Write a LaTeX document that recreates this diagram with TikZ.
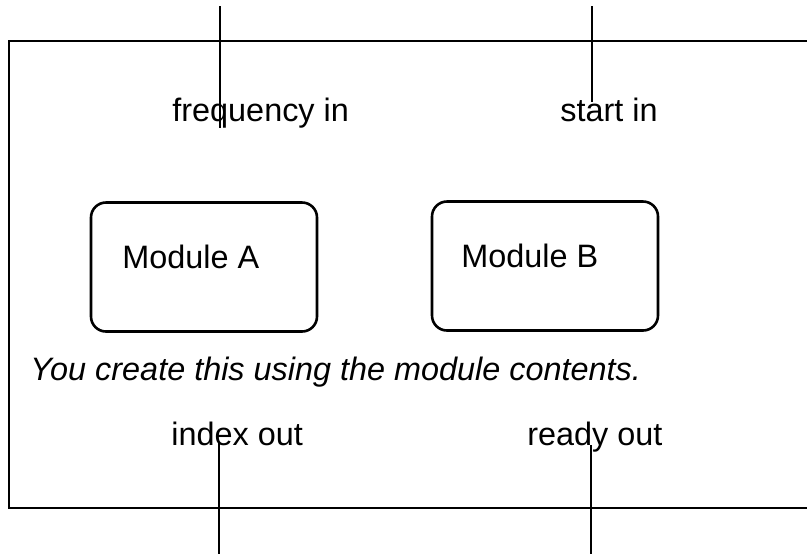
\documentclass[tikz,border=0pt]{standalone}
\usepackage{fontspec}
\setmainfont{Liberation Sans}
\usepackage{tikz}
\tikzset{
frame/.style={line width=1.4pt},
port/.style={line width=1.4pt},
module/.style={
  draw,
  line width=1.3pt,
  rounded corners=7.5pt,
  minimum width=113pt,
  minimum height=64.5pt,
  inner sep=0pt
},
txt/.style={anchor=base west,inner sep=0pt,font=\fontsize{16.2}{19}\selectfont},
}

\begin{document}
\begin{tikzpicture}[x=0.5pt,y=-0.5pt]
\useasboundingbox (0,0) rectangle (807,554);
% the outer frame, open to the right
\draw[frame] (812,41) -- (9,41) -- (9,508) -- (812,508);
% the modules
\node[module] (modA) at (204,267) {};
\node[module] (modB) at (545,266) {};
\node[txt] (labA) at (122,268) {Module A};
\node[txt] (labB) at (461,267) {Module B};
\node[txt] (note) at (30,380) {\itshape You create this using the module contents.};
% the port names
\node[txt] (freqIn) at (172,121) {frequency in};
\node[txt] (startIn) at (560,121) {start in};
\node[txt] (indexOut) at (171,445) {index out};
\node[txt] (readyOut) at (527,445) {ready out};
% the port wires
\coordinate (freqTop) at (220,6);
\coordinate (freqEnd) at (220,128);
\coordinate (startTop) at (592,6);
\coordinate (startEnd) at (592,102);
\coordinate (indexEnd) at (219,443);
\coordinate (indexBot) at (219,554);
\coordinate (readyEnd) at (591,445);
\coordinate (readyBot) at (591,554);
\foreach \a/\b in {freqTop/freqEnd,startTop/startEnd,indexEnd/indexBot,readyEnd/readyBot}
{
  \draw[port] (\a) -- (\b);
}
\end{tikzpicture}
\end{document}
